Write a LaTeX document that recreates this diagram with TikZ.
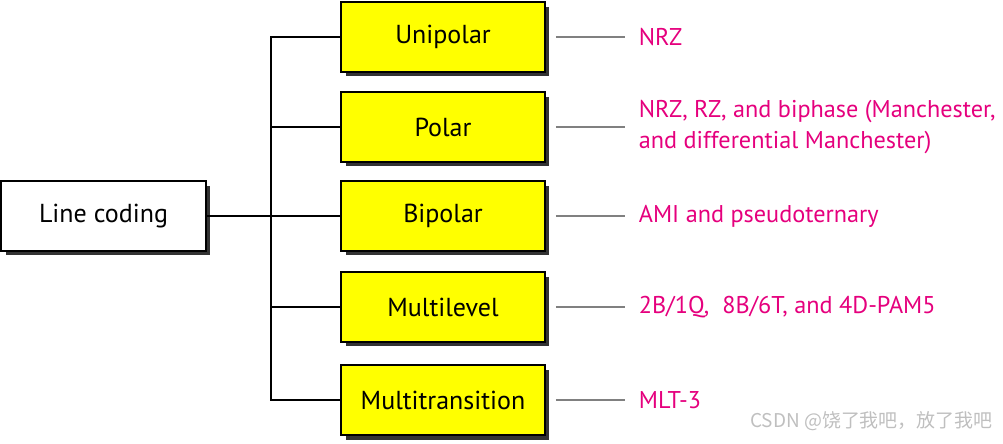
\documentclass[tikz,border=0pt]{standalone}
\usepackage{fontspec}
\setmainfont{PT Sans}
\newfontfamily\cjk{Noto Sans CJK SC}
\usetikzlibrary{shadows}
\definecolor{codepink}{HTML}{E5007D}
\definecolor{boxyellow}{HTML}{FFFF00}

\tikzset{
	box/.style={draw, line width=1.1pt, inner sep=0pt,
		minimum width=4.08cm, minimum height=1.4cm,
		font=\fontsize{14.8}{17}\selectfont,
		drop shadow={shadow xshift=0.09cm, shadow yshift=-0.09cm, fill=black!80, opacity=1}},
	kind/.style={box, fill=boxyellow},
	conn/.style={line width=1.2pt},
	tick/.style={draw=black!50, line width=0.8pt},
	codes/.style={anchor=west, inner xsep=0.27cm, align=left, text=codepink,
		font=\fontsize{13.8}{17.2}\selectfont}
}

\begin{document}
\begin{tikzpicture}[x=0.02cm, y=-0.02cm]
		\useasboundingbox (0, 0) rectangle (1003, 443);
		% root
		\node[box, fill=white, minimum width=4.1cm] (lc) at (103.5, 216) {Line coding};
		\coordinate (hub) at (271, 216);
		% categories and their schemes
		\foreach \i/\y/\name/\list in {
				1/37/Unipolar/NRZ,
				2/127/Polar/{NRZ, RZ, and biphase (Manchester,\\and differential Manchester)},
				3/216/Bipolar/AMI and pseudoternary,
				4/307/Multilevel/{2B/1Q,\ \ 8B/6T, and 4D-PAM5},
				5/400/Multitransition/MLT-3}{
			\node[kind] (b\i) at (443, \y) {\name};
			\node[codes] (t\i) at (625, \y) {\list};
			\draw[tick] ([xshift=0.2cm]b\i.east) -- (t\i.west);
		}
		\draw[conn] (lc.east) -- (hub);
		\draw[conn] (b1.west) -- (b1.west -| hub) -- (b5.west -| hub) -- (b5.west);
		\foreach \i in {2, 3, 4}{
			\draw[conn] (b\i.west) -- (b\i.west -| hub);
		}
		\node[anchor=east, text=black!25, font=\cjk\fontsize{10.8}{13}\selectfont] (mark) at (999, 421) {CSDN @饶了我吧，放了我吧};
	\end{tikzpicture}
\end{document}
